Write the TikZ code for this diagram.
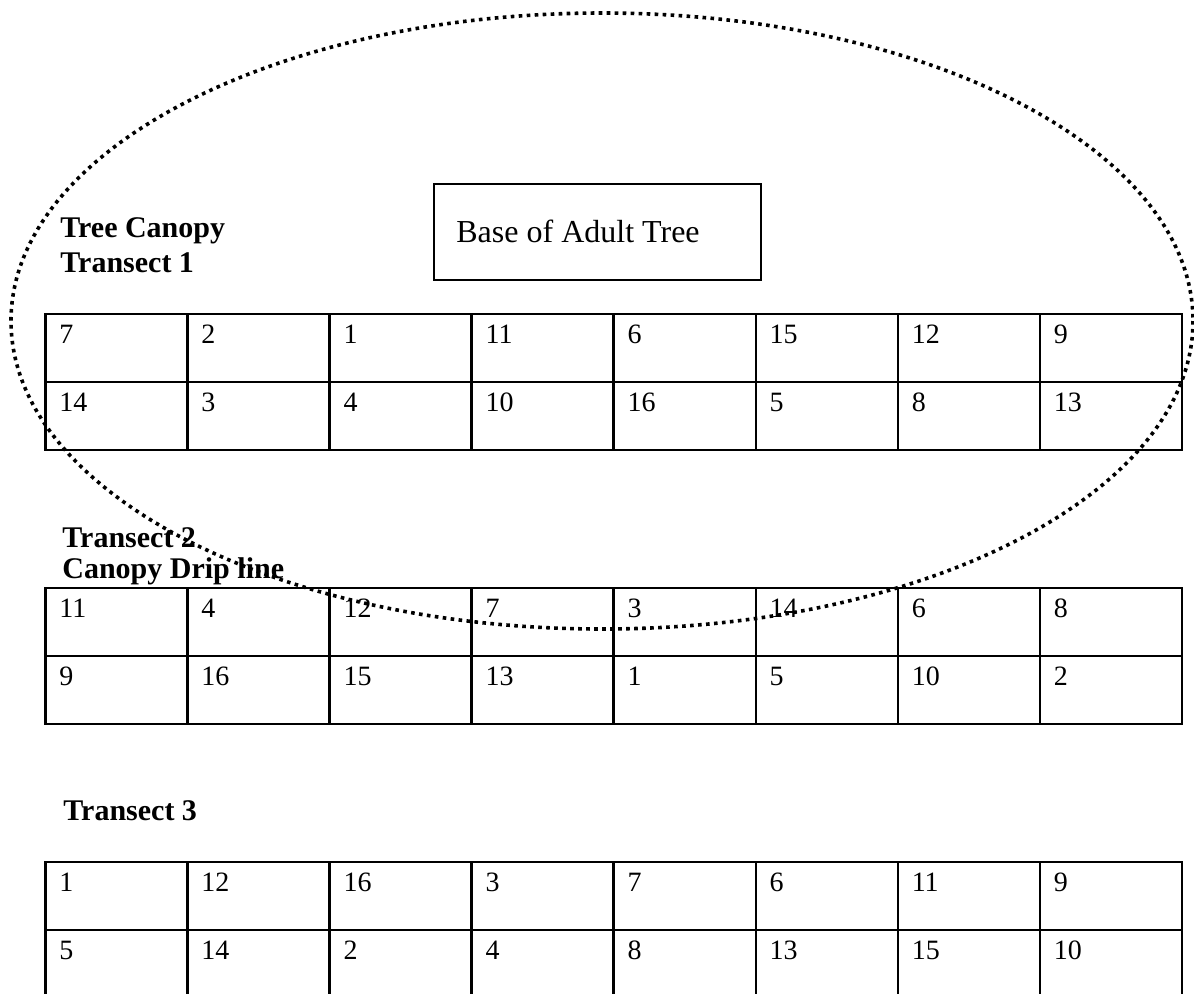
\documentclass[tikz,border=0pt]{standalone}
\usepackage{fontspec}
\setmainfont{Liberation Serif}
\begin{document}
\begin{tikzpicture}[x=0.5pt, y=-0.5pt,
        cellnum/.style={anchor=base west, inner sep=0pt, font=\fontsize{14}{16}\selectfont},
        transect/.style={anchor=base west, inner sep=0pt, font=\fontsize{15}{18}\selectfont\bfseries},
        gridline/.style={line width=1.3pt},
        canopy/.style={line width=1.8pt, dash pattern=on 1.8pt off 2.2pt}]
        \useasboundingbox (0,0) rectangle (1194,993);
        \clip (0,0) rectangle (1194,993);

        \coordinate (t1) at (45.5, 314);
        \coordinate (t2) at (45.5, 588);
        \coordinate (t3) at (45.5, 862);
        \coordinate (b) at (434, 184);

        % transect 1
        \draw[gridline] (t1) rectangle ++(1136.5, 136);
        \draw[gridline] (t1) ++(0, 68) --++ (1136.5, 0);
        \draw[gridline] (t1) ++(142.06, 0) --++ (0, 136);
        \draw[gridline] (t1) ++(284.12, 0) --++ (0, 136);
        \draw[gridline] (t1) ++(426.18, 0) --++ (0, 136);
        \draw[gridline] (t1) ++(568.25, 0) --++ (0, 136);
        \draw[gridline] (t1) ++(710.31, 0) --++ (0, 136);
        \draw[gridline] (t1) ++(852.37, 0) --++ (0, 136);
        \draw[gridline] (t1) ++(994.43, 0) --++ (0, 136);

        % transect 2
        \draw[gridline] (t2) rectangle ++(1136.5, 136);
        \draw[gridline] (t2) ++(0, 68) --++ (1136.5, 0);
        \draw[gridline] (t2) ++(142.06, 0) --++ (0, 136);
        \draw[gridline] (t2) ++(284.12, 0) --++ (0, 136);
        \draw[gridline] (t2) ++(426.18, 0) --++ (0, 136);
        \draw[gridline] (t2) ++(568.25, 0) --++ (0, 136);
        \draw[gridline] (t2) ++(710.31, 0) --++ (0, 136);
        \draw[gridline] (t2) ++(852.37, 0) --++ (0, 136);
        \draw[gridline] (t2) ++(994.43, 0) --++ (0, 136);

        % transect 3 (runs off the page)
        \draw[gridline] (t3) rectangle ++(1136.5, 138);
        \draw[gridline] (t3) ++(0, 68) --++ (1136.5, 0);
        \draw[gridline] (t3) ++(142.06, 0) --++ (0, 138);
        \draw[gridline] (t3) ++(284.12, 0) --++ (0, 138);
        \draw[gridline] (t3) ++(426.18, 0) --++ (0, 138);
        \draw[gridline] (t3) ++(568.25, 0) --++ (0, 138);
        \draw[gridline] (t3) ++(710.31, 0) --++ (0, 138);
        \draw[gridline] (t3) ++(852.37, 0) --++ (0, 138);
        \draw[gridline] (t3) ++(994.43, 0) --++ (0, 138);

        \path (t1) ++(13.5, 29) node[cellnum] (t1a1) {7} ++(142.06, 0) node[cellnum] (t1a2) {2} ++(142.06, 0) node[cellnum] (t1a3) {1} ++(142.06, 0) node[cellnum] (t1a4) {11} ++(142.06, 0) node[cellnum] (t1a5) {6} ++(142.06, 0) node[cellnum] (t1a6) {15} ++(142.06, 0) node[cellnum] (t1a7) {12} ++(142.06, 0) node[cellnum] (t1a8) {9};
        \path (t1) ++(13.5, 97) node[cellnum] (t1b1) {14} ++(142.06, 0) node[cellnum] (t1b2) {3} ++(142.06, 0) node[cellnum] (t1b3) {4} ++(142.06, 0) node[cellnum] (t1b4) {10} ++(142.06, 0) node[cellnum] (t1b5) {16} ++(142.06, 0) node[cellnum] (t1b6) {5} ++(142.06, 0) node[cellnum] (t1b7) {8} ++(142.06, 0) node[cellnum] (t1b8) {13};
        \path (t2) ++(13.5, 29) node[cellnum] (t2a1) {11} ++(142.06, 0) node[cellnum] (t2a2) {4} ++(142.06, 0) node[cellnum] (t2a3) {12} ++(142.06, 0) node[cellnum] (t2a4) {7} ++(142.06, 0) node[cellnum] (t2a5) {3} ++(142.06, 0) node[cellnum] (t2a6) {14} ++(142.06, 0) node[cellnum] (t2a7) {6} ++(142.06, 0) node[cellnum] (t2a8) {8};
        \path (t2) ++(13.5, 97) node[cellnum] (t2b1) {9} ++(142.06, 0) node[cellnum] (t2b2) {16} ++(142.06, 0) node[cellnum] (t2b3) {15} ++(142.06, 0) node[cellnum] (t2b4) {13} ++(142.06, 0) node[cellnum] (t2b5) {1} ++(142.06, 0) node[cellnum] (t2b6) {5} ++(142.06, 0) node[cellnum] (t2b7) {10} ++(142.06, 0) node[cellnum] (t2b8) {2};
        \path (t3) ++(13.5, 29) node[cellnum] (t3a1) {1} ++(142.06, 0) node[cellnum] (t3a2) {12} ++(142.06, 0) node[cellnum] (t3a3) {16} ++(142.06, 0) node[cellnum] (t3a4) {3} ++(142.06, 0) node[cellnum] (t3a5) {7} ++(142.06, 0) node[cellnum] (t3a6) {6} ++(142.06, 0) node[cellnum] (t3a7) {11} ++(142.06, 0) node[cellnum] (t3a8) {9};
        \path (t3) ++(13.5, 97) node[cellnum] (t3b1) {5} ++(142.06, 0) node[cellnum] (t3b2) {14} ++(142.06, 0) node[cellnum] (t3b3) {2} ++(142.06, 0) node[cellnum] (t3b4) {4} ++(142.06, 0) node[cellnum] (t3b5) {8} ++(142.06, 0) node[cellnum] (t3b6) {13} ++(142.06, 0) node[cellnum] (t3b7) {15} ++(142.06, 0) node[cellnum] (t3b8) {10};

        % labels
        \node[transect] (canopylbl) at (60, 237) {Tree Canopy};
        \node[transect] (tr1) at (60, 272) {Transect 1};
        \node[transect] (tr2) at (62, 547) {Transect 2};
        \node[transect] (drip) at (62, 578) {Canopy Drip line};
        \node[transect] (tr3) at (63, 820) {Transect 3};

        % base of the tree
        \draw[line width=1pt] (b) rectangle ++(327, 96);
        \node[anchor=base west, inner sep=0pt, font=\fontsize{16}{19}\selectfont] (base) at (456, 242) {Base of Adult Tree};

        % canopy outline
        \draw[canopy] (602, 321) ellipse [x radius=591, y radius=308];
\end{tikzpicture}
\end{document}
